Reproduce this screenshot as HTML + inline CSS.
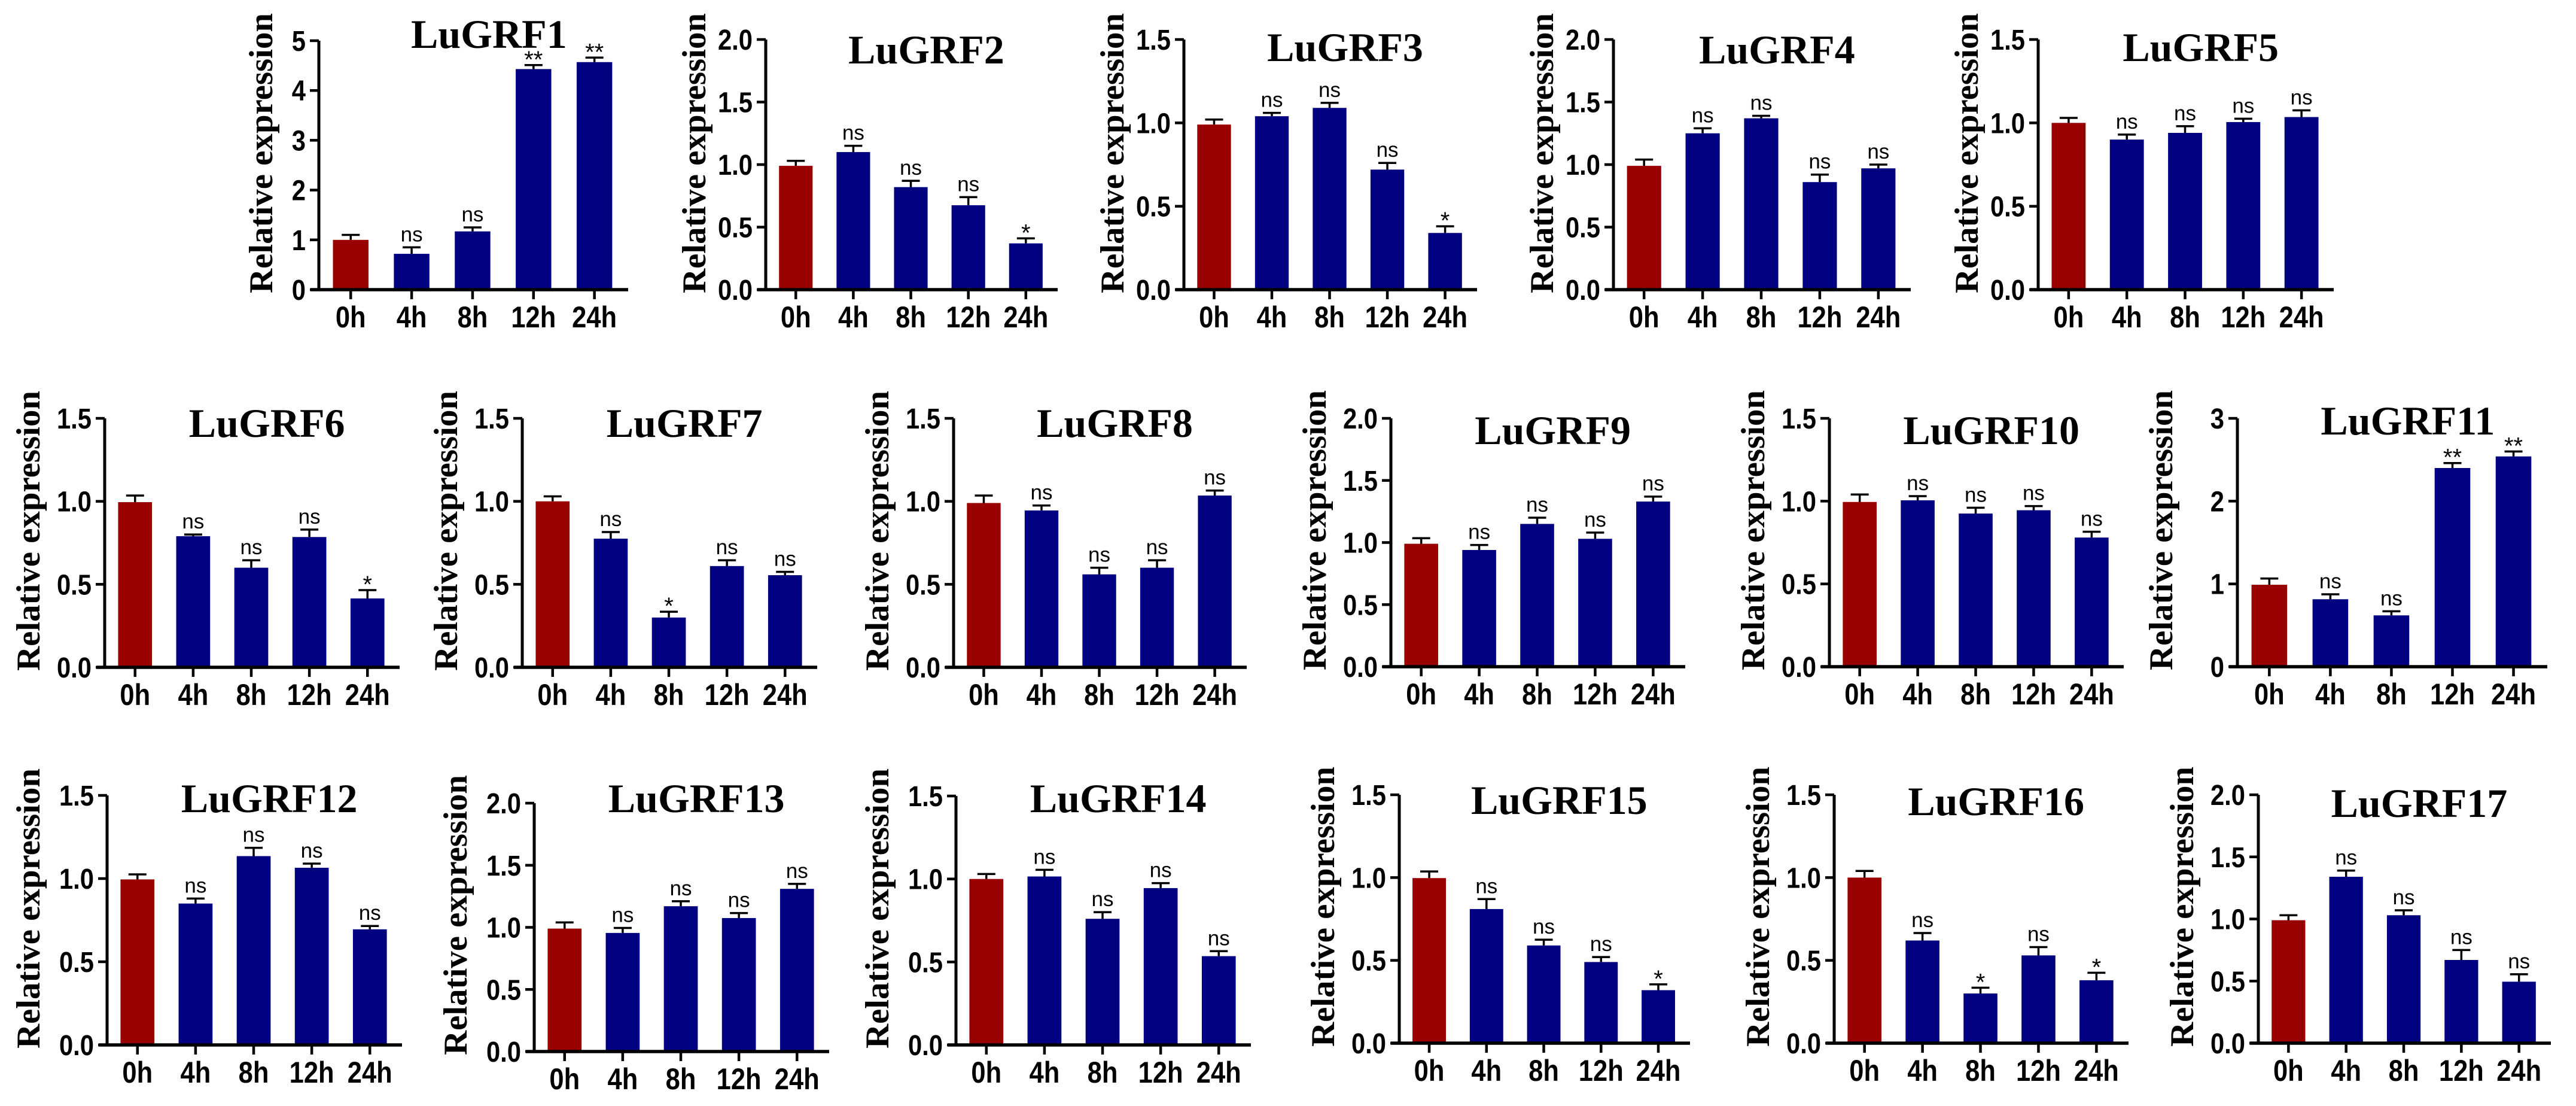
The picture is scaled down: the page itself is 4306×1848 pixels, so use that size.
<!DOCTYPE html>
<html><head><meta charset="utf-8"><style>
html,body{margin:0;padding:0;background:#fff;}
svg{display:block;}
</style></head><body>
<svg id="fig" xmlns="http://www.w3.org/2000/svg" width="4306" height="1848" viewBox="0 0 4306 1848"></svg>
<script>
const categories = ["0h","4h","8h","12h","24h"];
const titles = ["LuGRF1","LuGRF2","LuGRF3","LuGRF4","LuGRF5","LuGRF6","LuGRF7","LuGRF8","LuGRF9","LuGRF10","LuGRF11","LuGRF12","LuGRF13","LuGRF14","LuGRF15","LuGRF16","LuGRF17"];
const yMax = [5,2,1.5,2,1.5,1.5,1.5,1.5,2,1.5,3,1.5,2,1.5,1.5,1.5,2];
const yStep = [1,0.5,0.5,0.5,0.5,0.5,0.5,0.5,0.5,0.5,1,0.5,0.5,0.5,0.5,0.5,0.5];
const values = [
 [1.0,0.72,1.17,4.43,4.57],
 [0.99,1.10,0.82,0.675,0.37],
 [0.99,1.04,1.09,0.72,0.34],
 [0.99,1.25,1.37,0.86,0.97],
 [1.0,0.90,0.94,1.005,1.035],
 [0.995,0.79,0.60,0.785,0.415],
 [1.0,0.775,0.30,0.61,0.555],
 [0.99,0.945,0.56,0.60,1.035],
 [0.99,0.94,1.15,1.03,1.33],
 [0.995,1.005,0.925,0.945,0.78],
 [0.99,0.815,0.62,2.40,2.54],
 [0.995,0.85,1.135,1.065,0.695],
 [0.99,0.955,1.17,1.075,1.31],
 [1.0,1.015,0.76,0.945,0.535],
 [0.997,0.81,0.59,0.49,0.32],
 [1.0,0.62,0.30,0.53,0.38],
 [0.99,1.34,1.03,0.67,0.495]
];
const errors = [
 [0.10,0.13,0.08,0.08,0.09],
 [0.04,0.05,0.05,0.065,0.04],
 [0.03,0.02,0.03,0.04,0.04],
 [0.05,0.04,0.02,0.06,0.03],
 [0.03,0.03,0.04,0.02,0.04],
 [0.04,0.01,0.045,0.045,0.05],
 [0.03,0.04,0.035,0.035,0.02],
 [0.045,0.03,0.04,0.045,0.03],
 [0.045,0.04,0.05,0.05,0.04],
 [0.045,0.025,0.035,0.025,0.035],
 [0.075,0.06,0.05,0.06,0.06],
 [0.03,0.03,0.05,0.025,0.02],
 [0.05,0.04,0.04,0.04,0.04],
 [0.03,0.04,0.04,0.03,0.03],
 [0.04,0.06,0.035,0.03,0.035],
 [0.04,0.045,0.035,0.05,0.045],
 [0.04,0.05,0.04,0.08,0.06]
];
const signif = [
 ["","ns","ns","**","**"],
 ["","ns","ns","ns","*"],
 ["","ns","ns","ns","*"],
 ["","ns","ns","ns","ns"],
 ["","ns","ns","ns","ns"],
 ["","ns","ns","ns","*"],
 ["","ns","*","ns","ns"],
 ["","ns","ns","ns","ns"],
 ["","ns","ns","ns","ns"],
 ["","ns","ns","ns","ns"],
 ["","ns","ns","**","**"],
 ["","ns","ns","ns","ns"],
 ["","ns","ns","ns","ns"],
 ["","ns","ns","ns","ns"],
 ["","ns","ns","ns","*"],
 ["","ns","*","ns","*"],
 ["","ns","ns","ns","ns"]
];
// layout (pixel geometry): axisX, topY, zeroY, axis length, title baseline, ytitle offset
const layout = [
 [533,68,484,517,80,96],
 [1280,66,484,488,106,119],
 [1979,66,484,490,102,119],
 [2697,66,484,497,106,119],
 [3407,66,484,494,102,119],
 [175,699,1115,493,730,127],
 [873,699,1115,493,730,127],
 [1594,699,1115,490,730,127],
 [2325,699,1114,492,742,127],
 [3058,699,1114,492,742,127],
 [3740,699,1114,518,726,127],
 [179,1329,1746,493,1357,131],
 [893,1342,1757,493,1357,131],
 [1598,1330,1746,493,1357,131],
 [2339,1328,1743,486,1360,127],
 [3066,1328,1743,492,1362,127],
 [3775,1328,1743,489,1365,127]
];
const NS = "http://www.w3.org/2000/svg";
const svg = document.getElementById("fig");
function mk(tag, attrs, parent){
  const e = document.createElementNS(NS, tag);
  for (const k in attrs) e.setAttribute(k, attrs[k]);
  (parent||svg).appendChild(e);
  return e;
}
function fmt(v, step){ return step < 1 ? v.toFixed(1) : String(Math.round(v)); }

titles.forEach((t, ci) => {
  const [ax, top, zero, L, tBase, yOff] = layout[ci];
  const g = mk("g", {});
  
  
  const yScale = v => zero - (v / yMax[ci]) * (zero - top);
  const off = L * 0.103, sp = L * 0.197, bw = L * 0.115;
  const xCenter = i => ax + off + sp * i;

  const tt = mk("text", {x: ax + L * 0.55, y: tBase, "text-anchor": "middle",
    "font-family": "Liberation Serif, serif", "font-weight": "bold", "font-size": 68}, g);
  tt.textContent = t;
  
  

  const yc = zero - 228, xc = ax - yOff;
  const yt = mk("text", {x: 0, y: 0, "text-anchor": "middle", "dominant-baseline": "central",
    transform: `translate(${xc},${yc}) rotate(-90)`, textLength: 468, lengthAdjust: "spacingAndGlyphs",
    "font-family": "Liberation Serif, serif", "font-weight": "bold", "font-size": 56}, g);
  yt.textContent = "Relative expression";
  
  

  values[ci].forEach((v, i) => {
    const y = yScale(v), xc2 = xCenter(i);
    const r = mk("rect", {x: xc2 - bw / 2, y: y, width: bw, height: zero - y,
      fill: i === 0 ? "#990000" : "#000080"}, g);
    
    
    const ye = yScale(v + errors[ci][i]);
    const eb = mk("path", {d: `M${xc2},${y} V${ye} M${xc2 - 15},${ye} H${xc2 + 15}`,
      stroke: "#000", "stroke-width": 3.5, fill: "none"}, g);
    
    
    if (signif[ci][i]) {
      const s = signif[ci][i];
      const st = mk("text", {x: xc2, y: ye - (s === "ns" ? 10 : -4), "text-anchor": "middle",
        "font-family": "Liberation Sans, sans-serif", "font-size": s === "ns" ? 35 : 40}, g);
      st.textContent = s;
      
      
    }
    const tk = mk("line", {x1: xc2, y1: zero, x2: xc2, y2: zero + 16, stroke: "#000", "stroke-width": 4.5}, g);
    
    
    const lg = mk("g", {transform: `translate(${xc2},${zero + 63}) scale(0.87,1)`}, g);
    const lt = mk("text", {x: 0, y: 0, "text-anchor": "middle",
      "font-family": "Liberation Sans, sans-serif", "font-weight": "bold", "font-size": 50}, lg);
    lt.textContent = categories[i];
    
    
  });

  const ya = mk("line", {x1: ax, y1: top, x2: ax, y2: zero, stroke: "#000", "stroke-width": 5}, g);
  
  
  const xa = mk("line", {x1: ax - 14, y1: zero, x2: ax + L, y2: zero, stroke: "#000", "stroke-width": 5.5}, g);
  
  

  const n = Math.round(yMax[ci] / yStep[ci]);
  for (let k = 0; k <= n; k++) {
    const v = k * yStep[ci], y = yScale(v);
    const yk = mk("line", {x1: ax - 15, y1: y, x2: ax, y2: y, stroke: "#000", "stroke-width": 4.5}, g);
    
    
    const tg = mk("g", {transform: `translate(${ax - 22},${y + 17}) scale(0.87,1)`}, g);
    const tl = mk("text", {x: 0, y: 0, "text-anchor": "end",
      "font-family": "Liberation Sans, sans-serif", "font-weight": "bold", "font-size": 48}, tg);
    tl.textContent = fmt(v, yStep[ci]);
    
    
  }
});
</script>
</body></html>
